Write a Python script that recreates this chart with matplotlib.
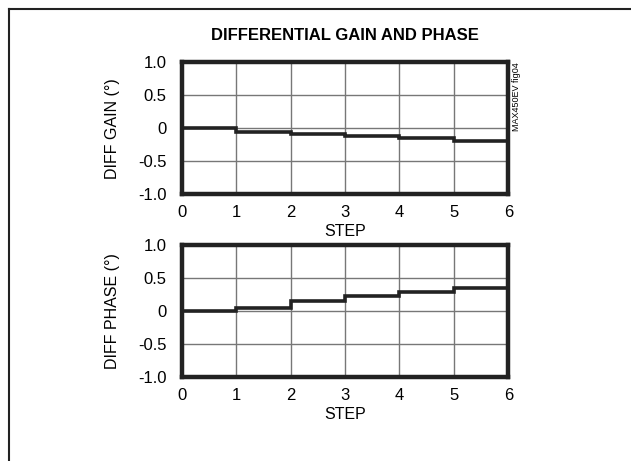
import numpy as np
import matplotlib
matplotlib.use("Agg")
import matplotlib.pyplot as plt

plt.rcParams['font.family'] = ['Liberation Sans', 'DejaVu Sans']

steps = [0, 1, 2, 3, 4, 5, 6]
diff_gain = [0.0, -0.05, -0.09, -0.12, -0.15, -0.19]
diff_phase = [0.0, 0.05, 0.15, 0.22, 0.29, 0.34]
y_ticks = [1.0, 0.5, 0, -0.5, -1.0]
y_tick_labels = ["1.0", "0.5", "0", "-0.5", "-1.0"]

fig = plt.figure(figsize=(6.31, 4.61), dpi=100)

# border of the figure box (only left/top visible in the reference)
fig.add_artist(plt.Line2D([0.0145, 0.0145], [0, 0.981], color="#222222", lw=1.5))
fig.add_artist(plt.Line2D([0.0145, 1.0], [0.981, 0.981], color="#222222", lw=1.5))

fig.text(0.547, 0.924, "DIFFERENTIAL GAIN AND PHASE", ha="center", va="center",
         fontsize=12, fontweight="heavy")


def setup(ax, values, ylabel):
    ax.set_xlim(0, 6)
    ax.set_ylim(-1, 1)
    ax.set_xticks(steps)
    ax.set_yticks(y_ticks)
    ax.set_yticklabels(y_tick_labels)
    ax.tick_params(length=0, labelsize=12)
    ax.tick_params(axis="y", pad=11)
    ax.tick_params(axis="x", pad=8)
    ax.grid(True, color="#777777", lw=1.0)
    for s in ax.spines.values():
        s.set_linewidth(3.2)
        s.set_color("#222222")
    y = list(values) + [values[-1]]
    ax.step(steps, y, where="post", color="#222222", lw=2.6, solid_joinstyle="miter")
    ax.set_ylabel(ylabel, fontsize=11.5)
    ax.yaxis.set_label_coords(-0.19, 0.5)
    ax.set_xlabel("STEP", fontsize=11.5, labelpad=3)


ax1 = fig.add_axes([0.288, 0.579, 0.5176, 0.2857])
setup(ax1, diff_gain, "DIFF GAIN (°)")
ax2 = fig.add_axes([0.288, 0.183, 0.5176, 0.2856])
setup(ax2, diff_phase, "DIFF PHASE (°)")

fig.text(0.818, 0.865, "MAX450EV fig04", rotation=90, ha="center", va="top", fontsize=6.5)

fig.savefig("out.png", dpi=100)
